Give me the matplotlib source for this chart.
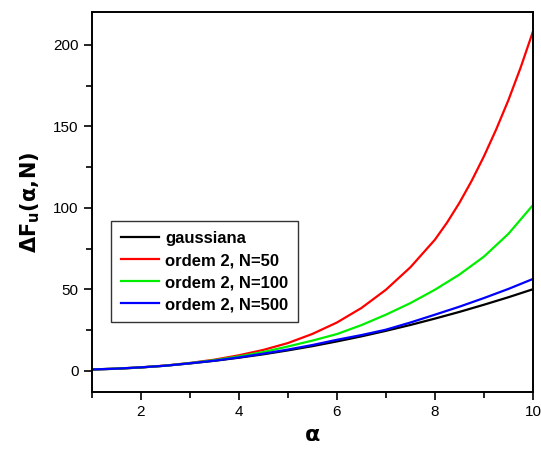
import numpy as np
import matplotlib.pyplot as plt
from matplotlib.ticker import MultipleLocator

plt.rcParams['font.family'] = ['Liberation Sans', 'DejaVu Sans']

# alpha grid and free-energy differences for each approximation
alpha = [1.0, 1.5, 2.0, 2.5, 3.0, 3.5, 4.0, 4.5, 5.0, 5.5,
         6.0, 6.5, 7.0, 7.5, 8.0, 8.5, 9.0, 9.5, 10.0]
gauss = [0.8, 1.2, 2.0, 3.1, 4.5, 6.1, 8.0, 10.1, 12.5, 15.1,
         18.0, 21.1, 24.5, 28.1, 32.0, 36.1, 40.5, 45.1, 50.0]
ord2_n100 = [0.8, 1.3, 2.1, 3.1, 4.7, 6.5, 8.8, 11.5, 14.9, 18.5,
             22.5, 28.0, 34.4, 41.5, 49.7, 59.0, 70.0, 84.0, 101.6]
ord2_n500 = [0.8, 1.3, 2.1, 3.1, 4.6, 6.2, 8.2, 10.5, 13.0, 15.8,
             19.0, 21.9, 25.2, 29.6, 34.4, 39.3, 44.6, 50.2, 56.3]

# N=50 rises steeply, read on a finer grid
alpha_n50 = [1.0, 1.5, 2.0, 2.5, 3.0, 3.5, 4.0, 4.5, 5.0, 5.5,
             6.0, 6.5, 7.0, 7.5, 8.0, 8.25, 8.5, 8.75, 9.0, 9.25,
             9.5, 9.75, 10.0]
ord2_n50 = [0.8, 1.3, 2.1, 3.2, 4.8, 6.8, 9.5, 12.8, 17.0, 22.6,
            29.6, 38.5, 49.7, 63.5, 80.4, 91.0, 103.0, 116.5, 131.5, 148.0,
            166.0, 186.0, 208.0]

series = [
    (alpha, gauss, "black", "gaussiana"),
    (alpha_n50, ord2_n50, "#ff0000", "ordem 2, N=50"),
    (alpha, ord2_n100, "#00ee00", "ordem 2, N=100"),
    (alpha, ord2_n500, "#0000ff", "ordem 2, N=500"),
]

fig = plt.figure(figsize=(5.41, 4.5), dpi=100)
ax = fig.add_axes([0.170, 0.129, 0.815, 0.844])

for x, y, c, lab in series:
    ax.plot(x, y, color=c, lw=1.6, label=lab)

ax.set_xlim(1, 10)
ax.set_ylim(-13, 220)
ax.xaxis.set_major_locator(MultipleLocator(2))
ax.xaxis.set_minor_locator(MultipleLocator(1))
ax.yaxis.set_major_locator(MultipleLocator(50))
ax.yaxis.set_minor_locator(MultipleLocator(25))
ax.tick_params(which='both', direction='out', top=False, right=False,
               labelsize=11, width=1.2)
ax.tick_params(which='major', length=6)
ax.tick_params(which='minor', length=4)
for sp in ax.spines.values():
    sp.set_linewidth(1.4)

ax.set_xlabel(r"$\mathbf{\alpha}$", fontsize=16, labelpad=4)
ax.set_ylabel(r"$\mathbf{\Delta F_u(\alpha,\!N)}$", fontsize=15, labelpad=8)

leg = ax.legend(loc='lower left', bbox_to_anchor=(0.043, 0.184),
                borderaxespad=0,
                prop={'weight': 'bold', 'size': 12}, frameon=True,
                fancybox=False, edgecolor='black', handlelength=2.3,
                borderpad=0.6, labelspacing=0.42, handletextpad=0.35)
leg.get_frame().set_linewidth(1.0)

fig.savefig("out.png", dpi=100)
